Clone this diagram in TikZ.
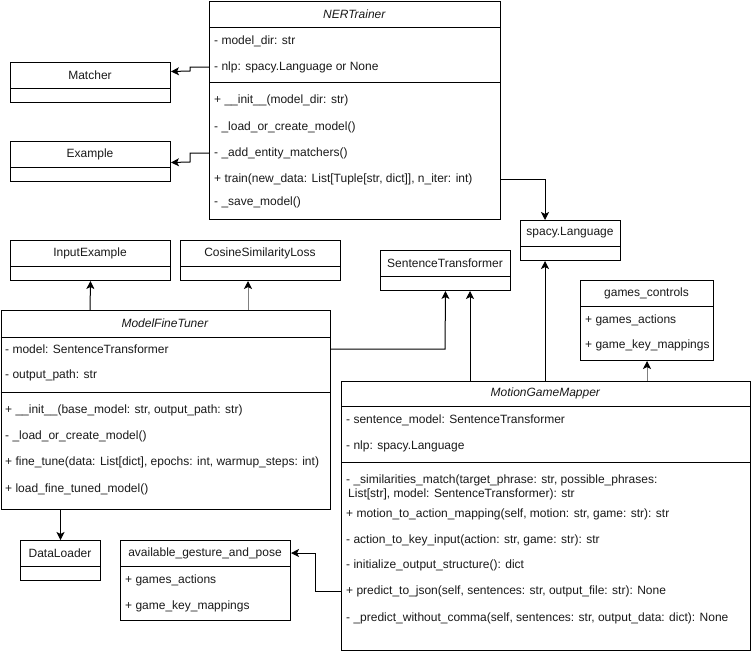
\documentclass[tikz,border=0pt]{standalone}
\usepackage{fontspec}
\setmainfont{Liberation Sans}
\usetikzlibrary{arrows.meta}
\tikzset{
    class-box/.style = {draw, line width=1pt, rectangle, anchor=north west, inner sep=0pt},
    class-title/.style = {inner sep=0pt, text=black!90},
    row-text/.style = {anchor=west, inner sep=0pt, text=black!90},
    uses/.style = {line width=1pt, -{Stealth[length=8pt,width=8pt,inset=2pt,color=black]}},
    uses-gray/.style = {uses, draw=black!50},
}

\begin{document}
\begin{tikzpicture}[x=1pt, y=-1pt, font=\fontsize{12}{13.3}\selectfont]
\useasboundingbox (0,0) rectangle (751,651);

% NERTrainer
\node[class-box, minimum width=291pt, minimum height=218.5pt] (ner) at (209,0.5) {};
\draw[line width=1pt] (209,27) -- (500,27) (209,82) -- (500,82);
\node[class-title] at (354.5,14) {\textit{NERTrainer}};
\node[row-text] (ner-dir) at (214,41) {- model\_dir: str};
\node[row-text] (ner-nlp) at (214,67) {- nlp: spacy.Language or None};
\node[row-text] (ner-init) at (214,100) {+ \_\_init\_\_(model\_dir: str)};
\node[row-text] (ner-load) at (214,127) {- \_load\_or\_create\_model()};
\node[row-text] (ner-add) at (214,153) {- \_add\_entity\_matchers()};
\node[row-text] (ner-train) at (214,179) {+ train(new\_data: List[Tuple[str, dict]], n\_iter: int)};
\node[row-text] (ner-save) at (214,202) {- \_save\_model()};

% Matcher, Example
\node[class-box, minimum width=160pt, minimum height=40pt] (matcher) at (10,62) {};
\draw[line width=1pt] (10,88) -- (170,88);
\node[class-title] at (90,75) {Matcher};
\node[class-box, minimum width=160pt, minimum height=40pt] (example) at (10,141) {};
\draw[line width=1pt] (10,167) -- (170,167);
\node[class-title] at (90,154) {Example};

% InputExample, CosineSimilarityLoss
\node[class-box, minimum width=160pt, minimum height=40pt] (inputex) at (10,240) {};
\draw[line width=1pt] (10,266) -- (170,266);
\node[class-title] at (90,253) {InputExample};
\node[class-box, minimum width=160pt, minimum height=40pt] (cosine) at (180,240) {};
\draw[line width=1pt] (180,266) -- (340,266);
\node[class-title] at (260,253) {CosineSimilarityLoss};

% SentenceTransformer, spacy.Language
\node[class-box, minimum width=130pt, minimum height=40pt] (sentr) at (380,250) {};
\draw[line width=1pt] (380,276) -- (510,276);
\node[class-title] at (445,263) {SentenceTransformer};
\node[class-box, minimum width=100pt, minimum height=40pt] (spacy) at (520,220) {};
\draw[line width=1pt] (520,246) -- (620,246);
\node[class-title] at (570,233) {spacy.Language};

% games_controls
\node[class-box, minimum width=133pt, minimum height=80pt] (games) at (580,280) {};
\draw[line width=1pt] (580,306) -- (713,306);
\node[class-title] at (646.5,293) {games\_controls};
\node[row-text] (games-act) at (585,320) {+ games\_actions};
\node[row-text] (games-keys) at (585,345) {+ game\_key\_mappings};

% ModelFineTuner
\node[class-box, minimum width=329.5pt, minimum height=199pt] (mft) at (0.5,310) {};
\draw[line width=1pt] (0.5,337) -- (330,337) (0.5,392) -- (330,392);
\node[class-title] at (165,323.5) {\textit{ModelFineTuner}};
\node[row-text] (mft-model) at (5,349) {- model: SentenceTransformer};
\node[row-text] (mft-path) at (5,375) {- output\_path: str};
\node[row-text] (mft-init) at (5,410) {+ \_\_init\_\_(base\_model: str, output\_path: str)};
\node[row-text] (mft-load) at (5,436) {- \_load\_or\_create\_model()};
\node[row-text] (mft-tune) at (5,462) {+ fine\_tune(data: List[dict], epochs: int, warmup\_steps: int)};
\node[row-text] (mft-loadft) at (5,489) {+ load\_fine\_tuned\_model()};

% DataLoader, available_gesture_and_pose
\node[class-box, minimum width=80pt, minimum height=40pt] (loader) at (20,540) {};
\draw[line width=1pt] (20,566) -- (100,566);
\node[class-title] at (60,553) {DataLoader};
\node[class-box, minimum width=170pt, minimum height=80pt] (avail) at (120,540) {};
\draw[line width=1pt] (120,566) -- (290,566);
\node[class-title] at (205,553) {available\_gesture\_and\_pose};
\node[row-text] (avail-act) at (125,580) {+ games\_actions};
\node[row-text] (avail-keys) at (125,606) {+ game\_key\_mappings};

% MotionGameMapper
\node[class-box, minimum width=409pt, minimum height=269.5pt] (mgm) at (341,380.5) {};
\draw[line width=1pt] (341,406) -- (750,406) (341,462) -- (750,462);
\node[class-title] at (545.5,393) {\textit{MotionGameMapper}};
\node[row-text] (mgm-model) at (346,420) {- sentence\_model: SentenceTransformer};
\node[row-text] (mgm-nlp) at (346,446) {- nlp: spacy.Language};
\node[row-text, align=left] (mgm-sim) at (346,487.5) {- \_similarities\_match(target\_phrase: str, possible\_phrases:\\\hspace*{2pt}List[str], model: SentenceTransformer): str};
\node[row-text] (mgm-motion) at (346,514) {+ motion\_to\_action\_mapping(self, motion: str, game: str): str};
\node[row-text] (mgm-key) at (346,540) {- action\_to\_key\_input(action: str, game: str): str};
\node[row-text] (mgm-initout) at (346,565) {- initialize\_output\_structure(): dict};
\node[row-text] (mgm-json) at (346,591) {+ predict\_to\_json(self, sentences: str, output\_file: str): None};
\node[row-text] (mgm-comma) at (346,618) {- \_predict\_without\_comma(self, sentences: str, output\_data: dict): None};

% connectors
\draw[uses] (ner.west |- ner-nlp) -- (190,67) -- (190,71) -- ([yshift=11pt]matcher.east);
\draw[uses] (ner.west |- ner-add) -- (190,153) -- (190,162) -- ([yshift=-1pt]example.east);
\draw[uses] (ner.east |- ner-train) -- (545,179) -- (spacy.north -| 545,0);
\draw[uses] (mft.north -| 90,0) -- (inputex.south);
\draw[uses-gray] (mft.north -| 248,0) -- (cosine.south -| 248,0);
\draw[uses] (mft.east |- mft-model) -- (445,349) -- (sentr.south);
\draw[uses] (mgm.north -| 470,0) -- (sentr.south -| 470,0);
\draw[uses] (mgm.north -| 545,0) -- (spacy.south -| 545,0);
\draw[uses-gray] (mgm.north -| 647,0) -- (games.south -| 647,0);
\draw[uses] (mft.south -| loader.north) -- (loader.north);
\draw[uses] (mgm.west |- mgm-json) -- (315,591) -- (315,553) -- (avail.east |- 0,553);
\end{tikzpicture}
\end{document}
